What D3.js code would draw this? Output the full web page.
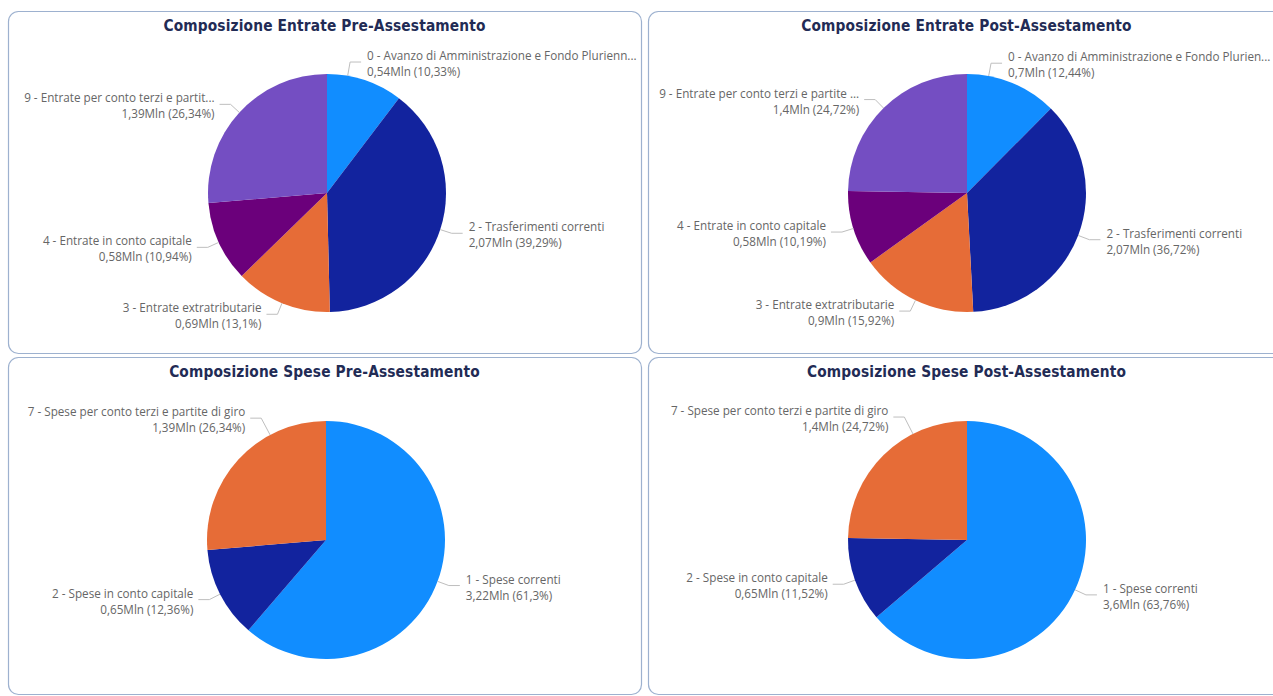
<!DOCTYPE html>
<html>
<head>
<meta charset="utf-8">
<script src="https://cdn.jsdelivr.net/npm/d3@7"></script>
<style>
	body { margin: 0; background: #fff; }
	svg { display: block; }
</style>
</head>
<body>
<svg id="chart" width="1273" height="696"></svg>
<script>
// chart titles
var titles = [
	"Composizione Entrate Pre-Assestamento",
	"Composizione Entrate Post-Assestamento",
	"Composizione Spese Pre-Assestamento",
	"Composizione Spese Post-Assestamento"
];

// categories as shown (Power BI truncates some of them)
var entratePreNames = ["0 - Avanzo di Amministrazione e Fondo Plurienn...", "2 - Trasferimenti correnti", "3 - Entrate extratributarie", "4 - Entrate in conto capitale", "9 - Entrate per conto terzi e partit..."];
var entratePostNames = ["0 - Avanzo di Amministrazione e Fondo Plurien...", "2 - Trasferimenti correnti", "3 - Entrate extratributarie", "4 - Entrate in conto capitale", "9 - Entrate per conto terzi e partite ..."];
var speseNames = ["1 - Spese correnti", "2 - Spese in conto capitale", "7 - Spese per conto terzi e partite di giro"];

// values in Mln and share in %
var entratePreValues = [0.54, 2.07, 0.69, 0.58, 1.39];
var entratePrePct = [10.33, 39.29, 13.1, 10.94, 26.34];
var entratePostValues = [0.7, 2.07, 0.9, 0.58, 1.4];
var entratePostPct = [12.44, 36.72, 15.92, 10.19, 24.72];
var spesePreValues = [3.22, 0.65, 1.39];
var spesePrePct = [61.3, 12.36, 26.34];
var spesePostValues = [3.6, 0.65, 1.4];
var spesePostPct = [63.76, 11.52, 24.72];

var entrateColors = ["#118DFF", "#12239E", "#E66C37", "#6B007B", "#744EC2"];
var speseColors = ["#118DFF", "#12239E", "#E66C37"];

(function () {
	var svg = d3.select("#chart");
	var radius = 119;

	var charts = [
		{ names: entratePreNames, values: entratePreValues, pct: entratePrePct, colors: entrateColors },
		{ names: entratePostNames, values: entratePostValues, pct: entratePostPct, colors: entrateColors },
		{ names: speseNames, values: spesePreValues, pct: spesePrePct, colors: speseColors },
		{ names: speseNames, values: spesePostValues, pct: spesePostPct, colors: speseColors }
	];

	// card boxes + pie centres
	var panels = [
		{ x: 8, y: 11, w: 633, h: 342, cx: 327, cy: 193 },
		{ x: 648, y: 11, w: 637, h: 342, cx: 967, cy: 193 },
		{ x: 8, y: 357, w: 633, h: 337, cx: 326, cy: 540 },
		{ x: 648, y: 357, w: 637, h: 337, cx: 967, cy: 540 }
	];

	// labels that power bi moved off their mid angle (degrees, leader length)
	var labelMoves = {
		"0-0": { angle: 10, len: 14 },
		"1-0": { angle: 10.5, len: 13 },
		"2-2": { angle: 332, len: 19 },
		"3-2": { angle: 333, len: 19 }
	};

	var fmt = function (v) {
		return String(v).replace(".", ",");
	};

	var pie = d3.pie().sort(null).value(function (d) { return d.pct; });
	var arc = d3.arc().innerRadius(0).outerRadius(radius);

	charts.forEach(function (chart, ci) {
		var p = panels[ci];
		var g = svg.append("g");

		g.append("rect")
			.attr("x", p.x + 0.5)
			.attr("y", p.y + 0.5)
			.attr("width", p.w)
			.attr("height", p.h)
			.attr("rx", 10)
			.attr("fill", "#fff")
			.attr("stroke", "#9DB1CF")
			.attr("stroke-width", 1.2);

		g.append("text")
			.attr("x", p.x + p.w / 2)
			.attr("y", p.y + 15)
			.attr("text-anchor", "middle")
			.attr("dominant-baseline", "middle")
			.style("font-family", "'DejaVu Sans Condensed', sans-serif")
			.style("font-weight", "bold")
			.style("font-size", "15.3px")
			.style("letter-spacing", "0.15px")
			.style("fill", "#222B55")
			.text(titles[ci]);

		var rows = chart.names.map(function (n, i) {
			return { name: n, value: chart.values[i], pct: chart.pct[i], color: chart.colors[i] };
		});
		var slices = pie(rows);

		var pg = g.append("g").attr("transform", "translate(" + p.cx + "," + p.cy + ")");

		pg.selectAll("path.slice")
			.data(slices)
			.enter().append("path")
			.attr("class", "slice")
			.attr("d", arc)
			.attr("fill", function (d) { return d.data.color; });

		slices.forEach(function (d, i) {
			var move = labelMoves[ci + "-" + i];
			var a = move ? move.angle * Math.PI / 180 : (d.startAngle + d.endAngle) / 2;
			var len = move ? move.len : 12;
			var sx = Math.sin(a), sy = -Math.cos(a);
			var right = sx >= 0;
			var p0 = [radius * sx, radius * sy];
			var p1 = [(radius + len) * sx, (radius + len) * sy];
			var p2 = [p1[0] + (right ? 11 : -11), p1[1]];
			var tx = p2[0] + (right ? 6 : -5);

			pg.append("polyline")
				.attr("points", [p0, p1, p2].map(function (q) { return q.join(","); }).join(" "))
				.attr("fill", "none")
				.attr("stroke", "#BEBEBE")
				.attr("stroke-width", 1);

			var t = pg.append("text")
				.attr("text-anchor", right ? "start" : "end")
				.style("font-family", "'Open Sans', sans-serif")
				.style("font-size", "11.7px")
				.style("fill", "#666666");
			t.append("tspan")
				.attr("x", tx)
				.attr("y", p1[1] - 2)
				.text(d.data.name);
			t.append("tspan")
				.attr("x", tx)
				.attr("y", p1[1] + 14)
				.text(fmt(d.data.value) + "Mln (" + fmt(d.data.pct) + "%)");
		});
	});
})();
</script>
</body>
</html>
